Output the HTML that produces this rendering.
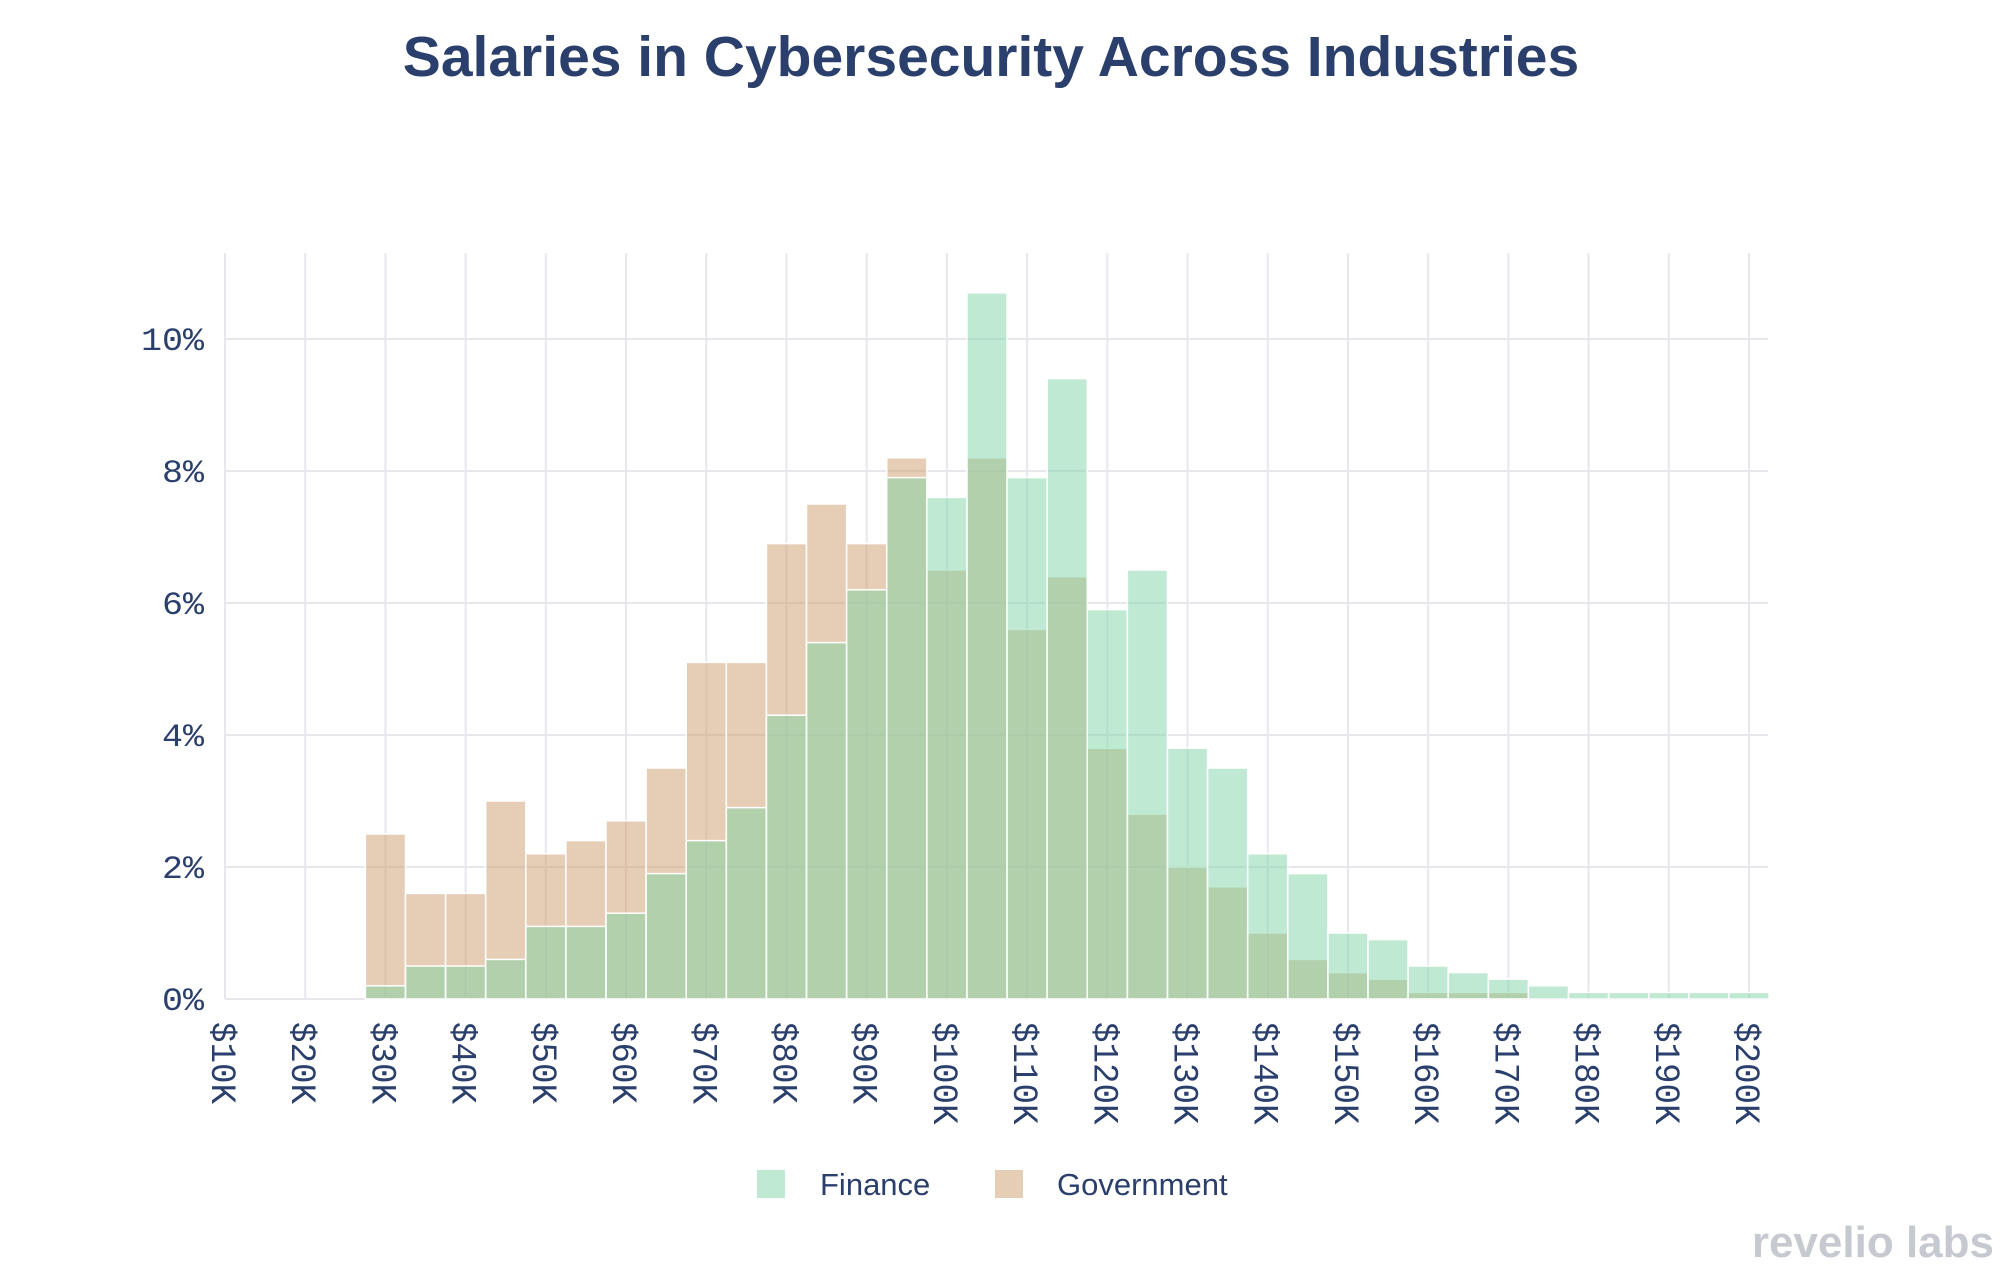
<!DOCTYPE html>
<html><head><meta charset="utf-8"><style>
body{margin:0;background:#fff;}
svg{display:block;}
</style></head><body>
<svg id="chart" width="2005" height="1277" xmlns="http://www.w3.org/2000/svg">
<text x="991" y="76" text-anchor="middle" font-family="Liberation Sans, sans-serif" font-weight="bold" font-size="57" fill="#2a3f6b">Salaries in Cybersecurity Across Industries</text>
<g id="grid"></g><g id="bars"></g><g id="axes"></g>
<g>
<rect x="757" y="1170" width="28" height="28" fill="rgb(127,212,166)" fill-opacity="0.5"/>
<text x="820" y="1195" font-family="Liberation Sans, sans-serif" font-size="31" fill="#2a3f6b">Finance</text>
<rect x="995" y="1170" width="28" height="28" fill="rgb(205,155,108)" fill-opacity="0.5"/>
<text x="1057" y="1195" font-family="Liberation Sans, sans-serif" font-size="31" fill="#2a3f6b">Government</text>
</g>
<text x="1994" y="1257" text-anchor="end" font-family="Liberation Sans, sans-serif" font-weight="bold" font-size="44" fill="#c6c9cf">revelio labs</text>
</svg>
<script>
const binCenters=[30,35,40,45,50,55,60,65,70,75,80,85,90,95,100,105,110,115,120,125,130,135,140,145,150,155,160,165,170,175,180,185,190,195,200];
const financeValues=[0.2,0.5,0.5,0.6,1.1,1.1,1.3,1.9,2.4,2.9,4.3,5.4,6.2,7.9,7.6,10.7,7.9,9.4,5.9,6.5,3.8,3.5,2.2,1.9,1.0,0.9,0.5,0.4,0.3,0.2,0.1,0.1,0.1,0.1,0.1];
const governmentValues=[2.5,1.6,1.6,3.0,2.2,2.4,2.7,3.5,5.1,5.1,6.9,7.5,6.9,8.2,6.5,8.2,5.6,6.4,3.8,2.8,2.0,1.7,1.0,0.6,0.4,0.3,0.1,0.1,0.1,0,0,0,0,0,0];
const xTicks=[10,20,30,40,50,60,70,80,90,100,110,120,130,140,150,160,170,180,190,200];
const yTicks=[0,2,4,6,8,10];
const binWidth=5;
const NS="http://www.w3.org/2000/svg";
const X0=225,X1=1749,Y0=999,YPER=66,TOP=253,RIGHT=1768;
function xs(v){return X0+(v-10)*(X1-X0)/190;}
function ys(v){return Y0-v*YPER;}
function mk(tag,attrs,parent){const e=document.createElementNS(NS,tag);for(const k in attrs)e.setAttribute(k,attrs[k]);parent.appendChild(e);return e;}
const grid=document.getElementById('grid'),bars=document.getElementById('bars'),axes=document.getElementById('axes');
xTicks.forEach(t=>{
 const l=mk('line',{x1:xs(t),x2:xs(t),y1:TOP,y2:Y0,stroke:'#e6e8ee','stroke-width':2},grid);
 
 
 const s='$'+t+'K';
 const tx=mk('text',{x:0,y:0,transform:`translate(${xs(t)-13},1022) rotate(90)`,'font-family':'Liberation Mono, DejaVu Sans Mono, monospace','font-size':35,textLength:s.length*20.5,lengthAdjust:'spacingAndGlyphs',fill:'#2a3f6b'},axes);
 tx.textContent=s;
 
 
});
yTicks.forEach(t=>{
 const l=mk('line',{x1:X0,x2:RIGHT,y1:ys(t),y2:ys(t),stroke:'#e6e8ee','stroke-width':2},grid);
 
 
 const s=t+'%';
 const tx=mk('text',{x:204,y:ys(t)+11,'text-anchor':'end','font-family':'Liberation Mono, DejaVu Sans Mono, monospace','font-size':32,textLength:s.length*21,lengthAdjust:'spacingAndGlyphs',fill:'#2a3f6b'},axes);
 tx.textContent=s;
 
 
});
function drawSeries(vals,color,name){
 binCenters.forEach((c,i)=>{
  const v=vals[i]; if(!v)return;
  const x=xs(c-binWidth/2),w=xs(c+binWidth/2)-x;
  const r=mk('rect',{x:x,y:ys(v),width:w,height:Y0-ys(v),fill:color,'fill-opacity':0.5,stroke:'#fff','stroke-width':1.5},bars);
  
  
 });
}
drawSeries(governmentValues,'rgb(205,155,108)','government');
drawSeries(financeValues,'rgb(127,212,166)','finance');
</script>
</body></html>
